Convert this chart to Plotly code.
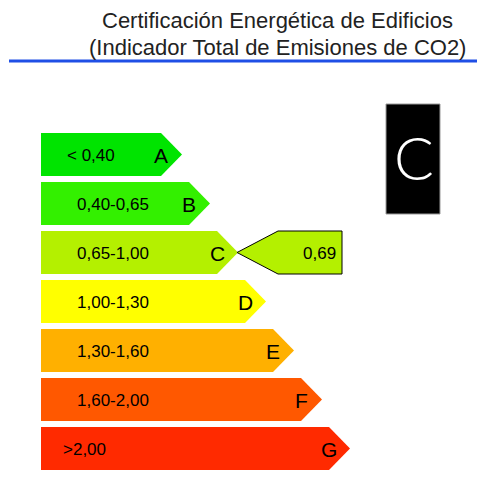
import plotly.graph_objects as go

# ---- data ----
classes = ["A", "B", "C", "D", "E", "F", "G"]
ranges = ["< 0,40", "0,40-0,65", "0,65-1,00", "1,00-1,30", "1,30-1,60", "1,60-2,00", ">2,00"]
colors = ["#00e400", "#33f000", "#b4f000", "#ffff00", "#ffb000", "#ff5800", "#ff2a00"]
value_text = "0,69"
rating = "C"
title_lines = ["Certificación Energética de Edificios", "(Indicador Total de Emisiones de CO2)"]

# ---- geometry (pixel space) ----
W, H = 477, 500
top0, pitch, bh = 133, 49, 43
left = 41
right0, step, head = 161, 28, 21
label_x = [65, 75, 75, 75, 75, 75, 61]

fig = go.Figure()
ann = []
for i, (c, r, col) in enumerate(zip(classes, ranges, colors)):
    t = top0 + pitch * i
    b = t + bh
    m = t + bh / 2
    rr = right0 + step * i
    tip = rr + head
    fig.add_trace(go.Scatter(
        x=[left, rr, tip, rr, left, left], y=[t, t, m, b, b, t],
        mode="lines", fill="toself", fillcolor=col, line=dict(width=0),
        hoverinfo="skip", showlegend=False))
    ann.append(dict(x=label_x[i], y=m + 1, text=r, xanchor="left", yanchor="middle",
                    showarrow=False, font=dict(size=17, color="#000", family="Liberation Sans")))
    ann.append(dict(x=rr, y=m + 1, text=c, xanchor="center", yanchor="middle",
                    showarrow=False, font=dict(size=21, color="#000", family="Liberation Sans")))

# indicator arrow
ri = classes.index(rating)
t = top0 + pitch * ri
b = t + bh
m = t + bh / 2
itip = right0 + step * ri + head - 1
iflank = itip + 41
iright = 342
fig.add_trace(go.Scatter(
    x=[itip, iflank, iright, iright, iflank, itip], y=[m, t, t, b, b, m],
    mode="lines", fill="toself", fillcolor=colors[ri], line=dict(width=1, color="#000"),
    hoverinfo="skip", showlegend=False))
ann.append(dict(x=iright - 4, y=m + 1, text=value_text, xanchor="right", yanchor="middle",
                showarrow=False, font=dict(size=17, color="#000", family="Liberation Sans")))

# rating box
shapes = [
    dict(type="rect", xref="x", yref="y", x0=386, x1=440, y0=104, y1=214,
         fillcolor="#000", line=dict(color="#9a9a9a", width=1)),
    dict(type="line", xref="x", yref="y", x0=9, x1=477, y0=61, y1=61,
         line=dict(color="#1f4fe6", width=3)),
]
ann.append(dict(x=414, y=157, text=rating, xanchor="center", yanchor="middle", showarrow=False,
                font=dict(size=59, color="#fff", family="Lato", weight=300)))

# title
ann.append(dict(x=277.5, y=20, text=title_lines[0], xanchor="center", yanchor="middle",
                showarrow=False, font=dict(size=22, color="#222", family="Liberation Sans")))
ann.append(dict(x=277.5, y=47, text=title_lines[1], xanchor="center", yanchor="middle",
                showarrow=False, font=dict(size=22, color="#222", family="Liberation Sans")))

fig.update_layout(
    width=W, height=H, margin=dict(l=0, r=0, t=0, b=0),
    paper_bgcolor="#fff", plot_bgcolor="#fff",
    xaxis=dict(range=[0, W], visible=False, fixedrange=True),
    yaxis=dict(range=[H, 0], visible=False, fixedrange=True),
    shapes=shapes, annotations=ann,
)
fig.write_html("out.html", config={"displayModeBar": False},
               post_script="document.body.style.margin='0';document.body.style.overflow='hidden';")
